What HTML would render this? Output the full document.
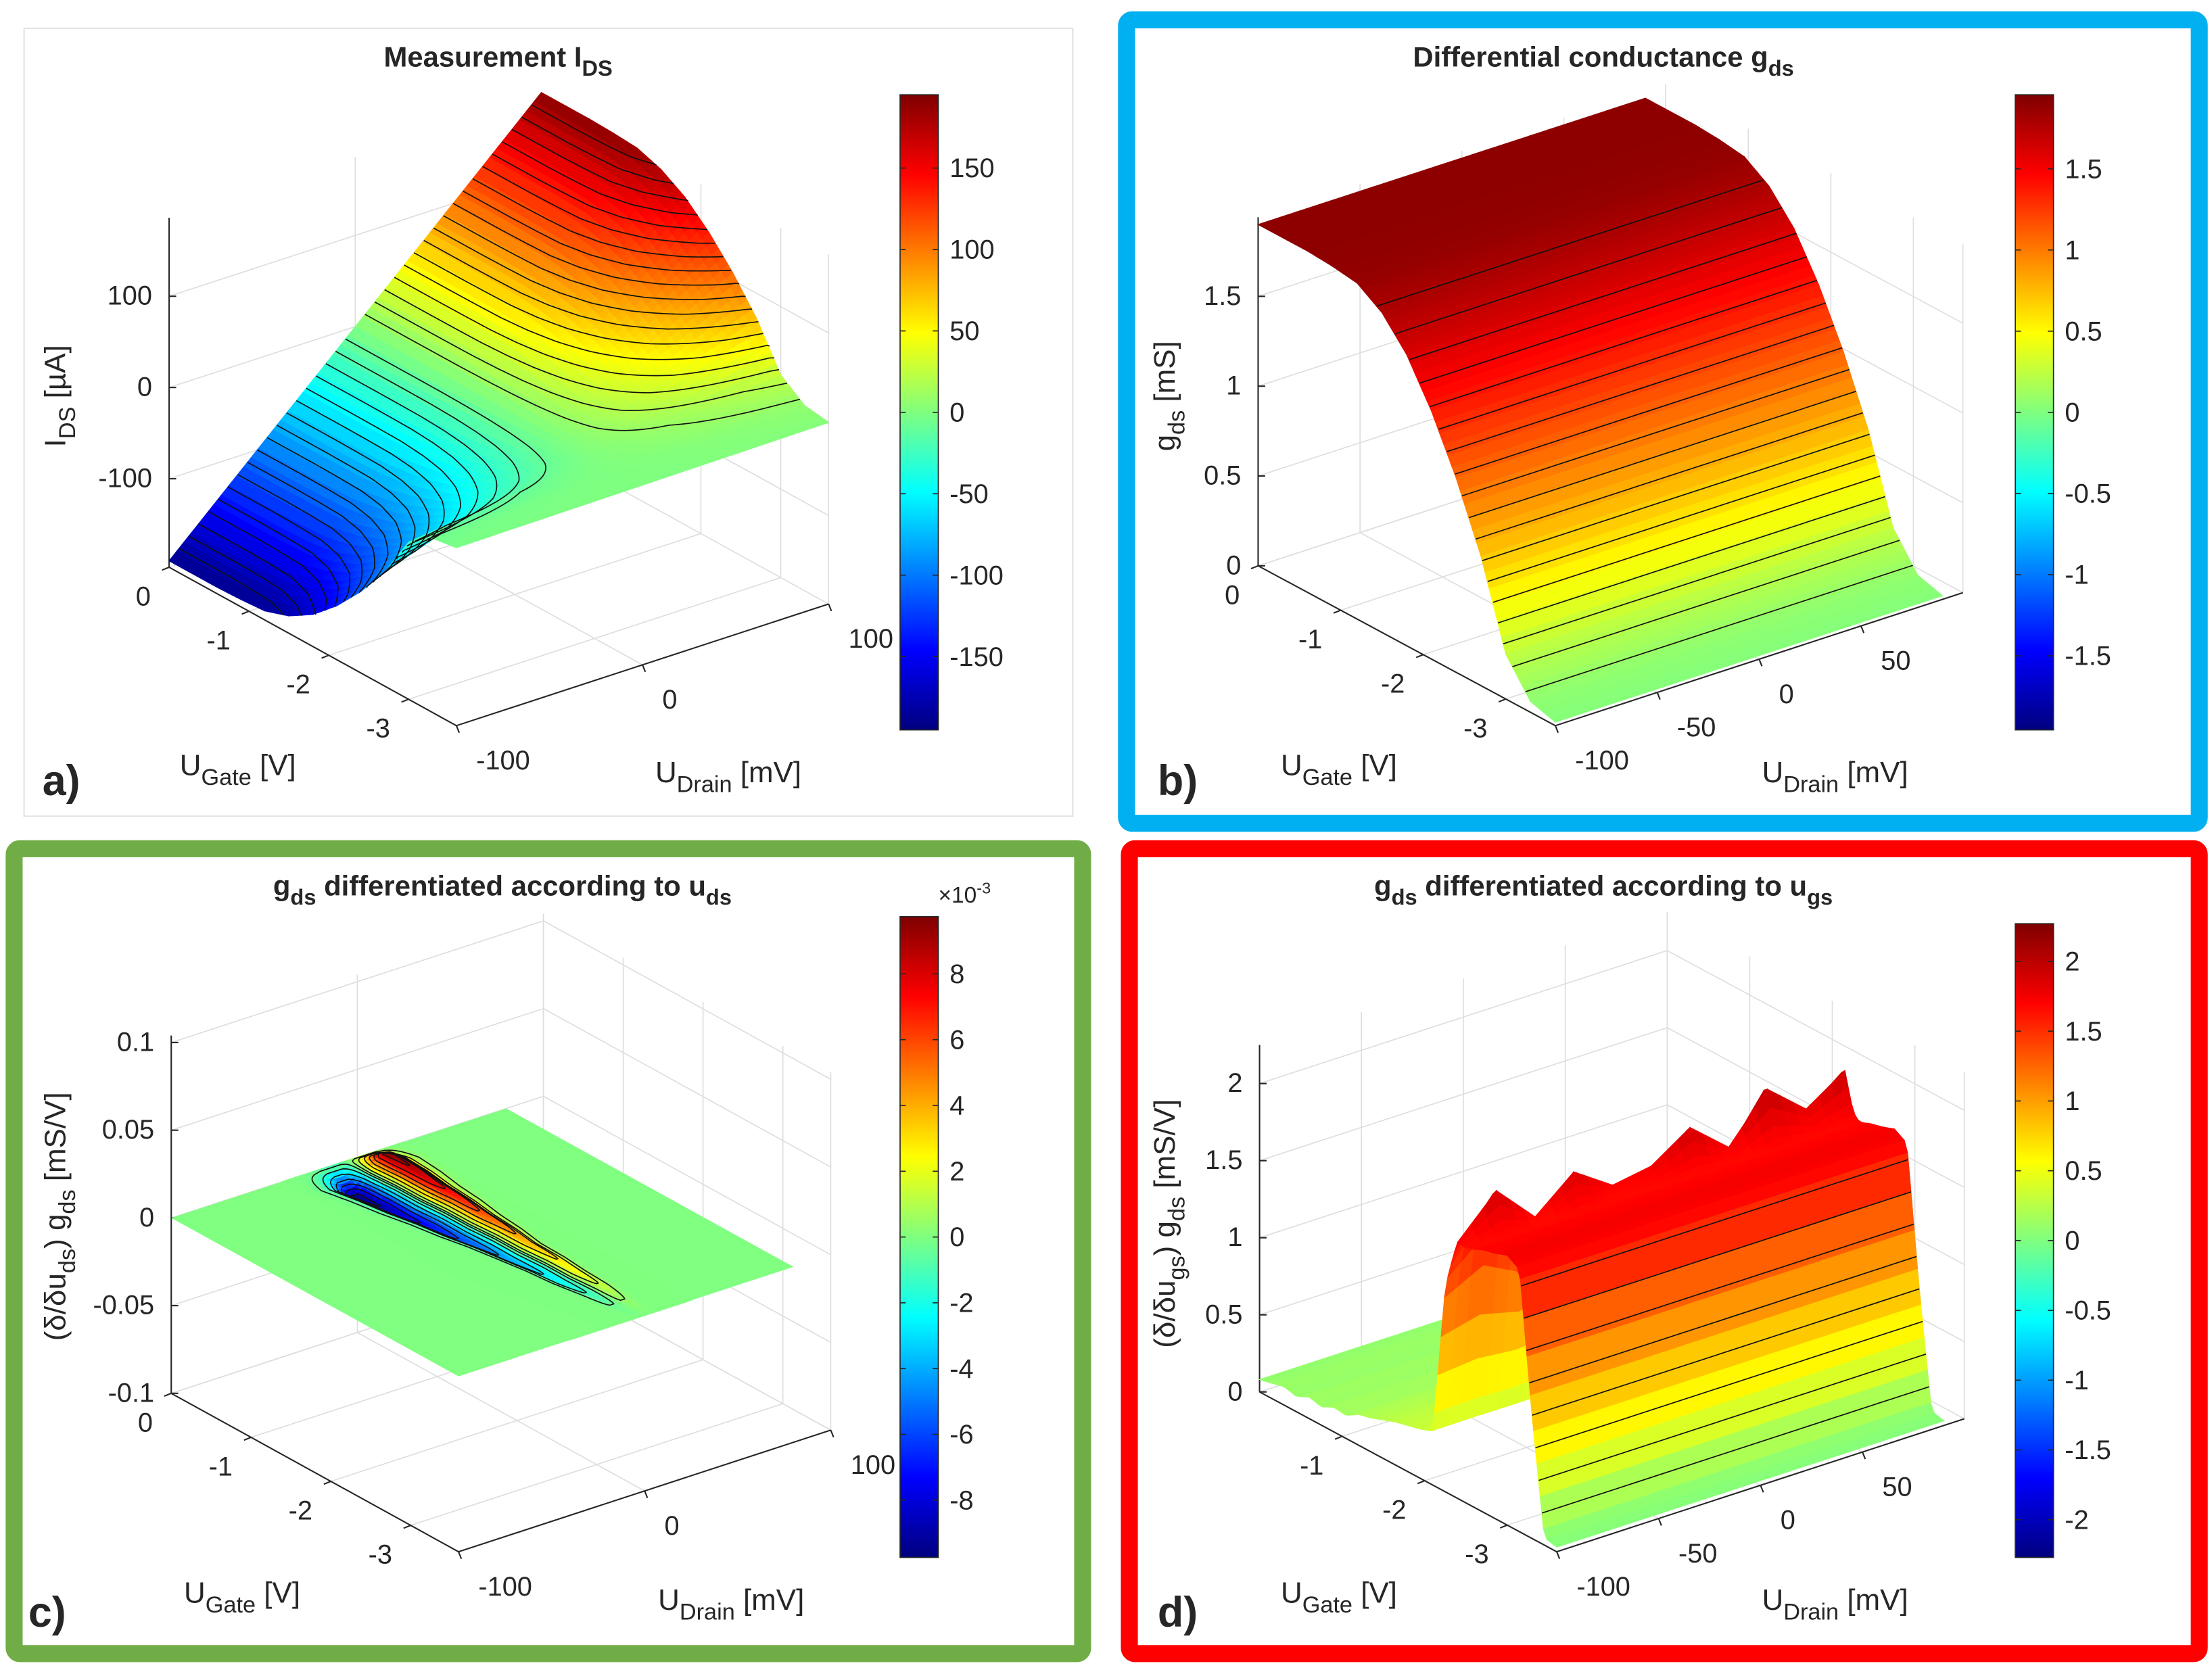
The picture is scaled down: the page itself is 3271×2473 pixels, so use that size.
<!DOCTYPE html>
<html><head><meta charset="utf-8">
<style>
html,body{margin:0;padding:0;background:#fff}
svg{display:block}
text{font-family:"Liberation Sans",Arial,sans-serif;fill:#262626}
</style></head>
<body>
<svg id="fig" xmlns="http://www.w3.org/2000/svg" width="3271" height="2473" viewBox="0 0 1563 1182" preserveAspectRatio="none">
<defs>
<linearGradient id="jet" x1="0" y1="1" x2="0" y2="0">
<stop offset="0" stop-color="#00007f"/><stop offset="0.125" stop-color="#0000ff"/><stop offset="0.375" stop-color="#00ffff"/><stop offset="0.625" stop-color="#ffff00"/><stop offset="0.875" stop-color="#ff0000"/><stop offset="1" stop-color="#7f0000"/>
</linearGradient>
</defs>
<rect x="17" y="20" width="741" height="557" fill="none" stroke="#e3e3e3" stroke-width="1"/>
<rect x="796" y="14" width="758" height="568" rx="4" fill="none" stroke="#00B0F0" stroke-width="12"/>
<rect x="10" y="600" width="755" height="569" rx="4" fill="none" stroke="#70AD47" stroke-width="12"/>
<rect x="798" y="600" width="756" height="569" rx="4" fill="none" stroke="#FF0000" stroke-width="12"/>
<g id="layer"></g>
</svg>
<script>
// ---------- data ----------
const gateSamples = [0,-0.3,-0.6,-0.9,-1.2,-1.5,-1.8,-2.1,-2.4,-2.7,-3.0,-3.3,-3.6];
const gdsValues   = [1.9,1.9,1.9,1.89,1.87,1.78,1.62,1.38,1.08,0.72,0.25,0.06,0.02];

const dGate   = [0,-0.15,-0.3,-0.45,-0.6,-0.75,-0.9,-1.05,-1.2,-1.35,-1.5,-1.65,-1.8,-1.95,-2.1,-2.25,-2.4,-2.55,-2.7,-2.85,-3.0,-3.15,-3.3,-3.45,-3.6];
const dValues = [0.08,0.1,0.12,0.1,0.14,0.12,0.16,0.15,0.2,0.22,0.25,0.28,0.3,0.32,0.35,1.3,1.62,1.66,1.7,1.72,1.75,1.7,0.8,0.05,0.03];
const dSpikeDrain  = [-100,-81,-62,-43,-24,-5,14,33,52,71,90];
const dSpikeValues = [0.05,0.35,0.05,0.3,0.1,0.15,0.35,0.1,0.45,0.2,0.4];

const stripeGate   = [0,-0.3,-0.6,-0.9,-1.2,-1.5,-1.8,-2.1,-2.4,-2.7,-3.0,-3.3,-3.6];
const stripeAmp    = [0,9.5,9,8,7,6,5,4,3.2,2.4,1.4,0.4,0];
const stripeWidth  = [12,12,11,10,9,8,7,6,5.5,5,4.5,4,4];
const stripeCenter = [-6,-6,-5,-5,-4,-4,-3,-3,-2,-2,-1,-1,0];

const aGateTicks=[0,-1,-2,-3], aDrainTicks=[-100,0,100], aZTicks=[-100,0,100];
const bGateTicks=[0,-1,-2,-3], bDrainTicks=[-100,-50,0,50], bZTicks=[0,0.5,1,1.5];
const cGateTicks=[0,-1,-2,-3], cDrainTicks=[-100,0,100], cZTicks=[-0.1,-0.05,0,0.05,0.1];
const dGateTicks=[-1,-2,-3], dDrainTicks=[-100,-50,0,50], dZTicks=[0,0.5,1,1.5,2];
const aCbTicks=[-150,-100,-50,0,50,100,150];
const bCbTicks=[-1.5,-1,-0.5,0,0.5,1,1.5];
const cCbTicks=[-8,-6,-4,-2,0,2,4,6,8];
const dCbTicks=[-2,-1.5,-1,-0.5,0,0.5,1,1.5,2];

// ---------- helpers ----------
const NS='http://www.w3.org/2000/svg';
const layer=document.getElementById('layer');
function mk(tag,parent){const e=document.createElementNS(NS,tag);parent.appendChild(e);return e;}
function interp(xs,ys,x){
  for(let i=0;i<xs.length-1;i++){
    const a=xs[i],b=xs[i+1];
    if((x<=a&&x>=b)||(x>=a&&x<=b)){const t=(x-a)/(b-a);return ys[i]+t*(ys[i+1]-ys[i]);}
  }
  return Math.abs(x-xs[0])<Math.abs(x-xs[xs.length-1])?ys[0]:ys[ys.length-1];
}
function clamp(v){return Math.max(0,Math.min(1,v));}
function jet(t){
  t=clamp(t);
  const r=clamp(Math.min(4*t-1.5,-4*t+4.5)),g=clamp(Math.min(4*t-0.5,-4*t+3.5)),b=clamp(Math.min(4*t+0.5,-4*t+2.5));
  return 'rgb('+Math.round(r*255)+','+Math.round(g*255)+','+Math.round(b*255)+')';
}
function makeProj(P){
  return function(g,d,z){
    const u=(g-P.g0)/(P.g1-P.g0), v=(d-P.d0)/(P.d1-P.d0);
    return [P.O[0]+u*P.U[0]+v*P.V[0], P.O[1]+u*P.U[1]+v*P.V[1]-(z-P.zmin)*P.zs];
  };
}
function line(parent,p,q,color,w,name){
  const l=mk('line',parent);
  l.setAttribute('x1',p[0]);l.setAttribute('y1',p[1]);l.setAttribute('x2',q[0]);l.setAttribute('y2',q[1]);
  l.setAttribute('stroke',color);l.setAttribute('stroke-width',w);
  
  
  return l;
}
function polyline(parent,pts,color,w,name){
  if(pts.length<2)return;
  const p=mk('polyline',parent);
  p.setAttribute('points',pts.map(q=>q[0].toFixed(2)+','+q[1].toFixed(2)).join(' '));
  p.setAttribute('fill','none');p.setAttribute('stroke',color);p.setAttribute('stroke-width',w);
  p.setAttribute('stroke-linejoin','round');
  
  
}
function label(parent,x,y,parts,size,anchor,name,bold,rot){
  const t=mk('text',parent);
  t.setAttribute('x',x);t.setAttribute('y',y);
  t.setAttribute('font-size',size);t.setAttribute('text-anchor',anchor);
  if(bold)t.setAttribute('font-weight','bold');
  if(rot)t.setAttribute('transform','rotate(-90 '+x+' '+y+')');
  
  
  let shift=0;
  parts.forEach(pt=>{
    const s=mk('tspan',t);
    s.textContent=pt[0];
    let target=0;
    if(pt[1]==='sub'){target=size*0.33;s.setAttribute('font-size',size*0.78);}
    if(pt[1]==='sup'){target=-size*0.4;s.setAttribute('font-size',size*0.7);}
    s.setAttribute('dy',target-shift);shift=target;
    
    
  });
  return t;
}
function fmt(v){return String(v);}

function drawSurface(parent,proj,f,gA,gB,ng,dA,dB,nd,cmin,cmax,name){
  const grp=mk('g',parent);
  
  
  for(let i=0;i<ng;i++){
    const g0=gA+(gB-gA)*i/ng, g1=gA+(gB-gA)*(i+1)/ng;
    for(let j=nd-1;j>=0;j--){
      const d0=dA+(dB-dA)*j/nd, d1=dA+(dB-dA)*(j+1)/nd;
      const z00=f(g0,d0),z01=f(g0,d1),z11=f(g1,d1),z10=f(g1,d0);
      const val=(z00+z01+z11+z10)/4;
      const pts=[proj(g0,d0,z00),proj(g0,d1,z01),proj(g1,d1,z11),proj(g1,d0,z10)];
      const col=jet((val-cmin)/(cmax-cmin));
      const q=mk('polygon',grp);
      q.setAttribute('points',pts.map(p=>p[0].toFixed(2)+','+p[1].toFixed(2)).join(' '));
      q.setAttribute('fill',col);q.setAttribute('stroke',col);q.setAttribute('stroke-width','0.6');
      
      
    }
  }
  return grp;
}

function drawAxes(parent,P,proj,gT,dT,zT,gLab,dLab,zLab){
  const grid='#dedede';
  dT.concat([P.d1]).forEach(d=>line(parent,proj(P.g0,d,P.zmin),proj(P.g0,d,P.zmax),grid,0.8,'grid-line'));
  zT.forEach(z=>line(parent,proj(P.g0,P.d0,z),proj(P.g0,P.d1,z),grid,0.8,'grid-line'));
  gT.concat([P.g1]).forEach(g=>line(parent,proj(g,P.d1,P.zmin),proj(g,P.d1,P.zmax),grid,0.8,'grid-line'));
  zT.forEach(z=>line(parent,proj(P.g0,P.d1,z),proj(P.g1,P.d1,z),grid,0.8,'grid-line'));
  gT.forEach(g=>line(parent,proj(g,P.d0,P.zmin),proj(g,P.d1,P.zmin),grid,0.8,'grid-line'));
  dT.forEach(d=>line(parent,proj(P.g0,d,P.zmin),proj(P.g1,d,P.zmin),grid,0.8,'grid-line'));
  line(parent,proj(P.g0,P.d0,P.zmin),proj(P.g1,P.d0,P.zmin),'#262626',1,'gate-axis');
  line(parent,proj(P.g1,P.d0,P.zmin),proj(P.g1,P.d1,P.zmin),'#262626',1,'drain-axis');
  line(parent,proj(P.g0,P.d0,P.zmin),proj(P.g0,P.d0,P.zmax),'#262626',1,'z-axis');
  gLab.forEach(g=>{const p=proj(g,P.d0,P.zmin);line(parent,p,[p[0]-5,p[1]+2],'#262626',1,'gate-tick');
    label(parent,p[0]-13,p[1]+27,[[fmt(g),'n']],19,'end','gate-tick-label');});
  dLab.forEach(d=>{const p=proj(P.g1,d,P.zmin);line(parent,p,[p[0]+2,p[1]+5],'#262626',1,'drain-tick');
    label(parent,p[0]+14,p[1]+31,[[fmt(d),'n']],19,'start','drain-tick-label');});
  zLab.forEach(z=>{const p=proj(P.g0,P.d0,z);line(parent,p,[p[0]+5,p[1]],'#262626',1,'z-tick');
    label(parent,p[0]-12,p[1]+6,[[fmt(z),'n']],19,'end','z-tick-label');});
}

function colorbar(parent,x,y,w,h,cmin,cmax,ticks,name){
  const g=mk('g',parent);
  
  
  const r=mk('rect',g);
  r.setAttribute('x',x);r.setAttribute('y',y);r.setAttribute('width',w);r.setAttribute('height',h);
  r.setAttribute('fill','url(#jet)');r.setAttribute('stroke','#262626');r.setAttribute('stroke-width','0.8');
  
  
  ticks.forEach(t=>{
    const ty=y+h-(t-cmin)/(cmax-cmin)*h;
    line(g,[x,ty],[x+4,ty],'#262626',0.8,'colorbar-tick');
    line(g,[x+w-4,ty],[x+w,ty],'#262626',0.8,'colorbar-tick');
    label(g,x+w+8,ty+6.5,[[fmt(t),'n']],19,'start','colorbar-tick-label');
  });
}

// ---------- Panel a ----------
(function(){
  const P={O:[119.5,401],U:[203,112],V:[263,-86],g0:0,g1:-3.6,d0:-100,d1:100,zmin:-197,zmax:186,zs:0.645};
  const proj=makeProj(P);
  const g=mk('g',layer);
  
  
  drawAxes(g,P,proj,aGateTicks,aDrainTicks,aZTicks,aGateTicks,aDrainTicks,aZTicks);
  const gds=x=>interp(gateSamples,gdsValues,x);
  const f=(gg,d)=>gds(gg)*d;
  drawSurface(g,proj,f,0,-3.6,60,-100,100,50,-195,195,'ids-surface');
  const cg=mk('g',g);
  
  
  for(let L=-180;L<=180;L+=10){
    if(L===0)continue;
    const pts=[];
    for(let gg=0;gg>=-3.6;gg-=0.02){
      const d=L/gds(gg);
      if(Math.abs(d)>100){pts.push(proj(gg,Math.sign(d)*100,L));break;}
      pts.push(proj(gg,d,L));
    }
    polyline(cg,pts,'#111',0.8,'ids-contour');
  }
  colorbar(g,636,67,27,449,-195,195,aCbTicks,'colorbar-a');
  label(g,352,47,[['Measurement I','n'],['DS','sub']],20,'middle','title-a',true);
  label(g,127,548,[['U','n'],['Gate','sub'],[' [V]','n']],21,'start','x-axis-title-gate-a');
  label(g,463,553,[['U','n'],['Drain','sub'],[' [mV]','n']],21,'start','x-axis-title-drain-a');
  label(g,46,280,[['I','n'],['DS','sub'],[' [µA]','n']],21,'middle','y-axis-title-a',false,true);
  label(g,30,562,[['a)','n']],30,'start','panel-label-a',true);
})();

// ---------- Panel b ----------
(function(){
  const P={O:[889,400],U:[210,113],V:[288,-94],g0:0,g1:-3.6,d0:-100,d1:100,zmin:0,zmax:1.94,zs:127};
  const proj=makeProj(P);
  const g=mk('g',layer);
  
  
  drawAxes(g,P,proj,bGateTicks,bDrainTicks,bZTicks,bGateTicks,bDrainTicks,bZTicks);
  const gds=x=>interp(gateSamples,gdsValues,x);
  drawSurface(g,proj,(gg,d)=>gds(gg),0,-3.6,72,-100,90,10,-1.956,1.956,'gds-surface');
  const cg=mk('g',g);
  
  
  for(let L=0.1;L<=1.85;L+=0.1){
    let gl=null;
    for(let gg=0;gg>=-3.6;gg-=0.005){if(gds(gg)<=L){gl=gg;break;}}
    if(gl===null)continue;
    polyline(cg,[proj(gl,-100,L),proj(gl,90,L)],'#111',0.8,'gds-contour');
  }
  colorbar(g,1424,67,27,449,-1.956,1.956,bCbTicks,'colorbar-b');
  label(g,1133,47,[['Differential conductance g','n'],['ds','sub']],20,'middle','title-b',true);
  label(g,905,548,[['U','n'],['Gate','sub'],[' [V]','n']],21,'start','x-axis-title-gate-b');
  label(g,1245,553,[['U','n'],['Drain','sub'],[' [mV]','n']],21,'start','x-axis-title-drain-b');
  label(g,830,280,[['g','n'],['ds','sub'],[' [mS]','n']],21,'middle','y-axis-title-b',false,true);
  label(g,818,562,[['b)','n']],30,'start','panel-label-b',true);
})();

// ---------- Panel c ----------
(function(){
  const P={O:[121,985],U:[203,112],V:[263,-86],g0:0,g1:-3.6,d0:-100,d1:100,zmin:-0.1,zmax:0.104,zs:1240};
  const proj=makeProj(P);
  const g=mk('g',layer);
  
  
  drawAxes(g,P,proj,cGateTicks,cDrainTicks,cZTicks,cGateTicks,cDrainTicks,cZTicks);
  const amp=x=>interp(stripeGate,stripeAmp,x)*1e-3;
  const wid=x=>interp(stripeGate,stripeWidth,x);
  const cen=x=>interp(stripeGate,stripeCenter,x);
  const f=(gg,d)=>{const t=(d-cen(gg))/wid(gg);return amp(gg)*2.33*t*Math.exp(-t*t);};
  const cmax=9.74e-3;
  const plane=mk('polygon',g);
  const pc=[proj(0,-100,0),proj(0,80,0),proj(-3.6,80,0),proj(-3.6,-100,0)];
  plane.setAttribute('points',pc.map(p=>p[0]+','+p[1]).join(' '));
  plane.setAttribute('fill',jet(0.5));
  
  
  drawSurface(g,proj,f,0,-3.6,60,-40,25,54,-cmax,cmax,'dgds-stripe-surface');
  const cg=mk('g',g);
  
  
  const levels=[0.4,1.5,3,4.5,6,7.5,9];
  levels.forEach(lv=>{
    [1,-1].forEach(sg=>{
      const L=lv*1e-3;
      const inner=[],outer=[];
      for(let gg=0;gg>=-3.6;gg-=0.02){
        const A=amp(gg)*2.33; if(A*0.4289<=L)continue;
        const h=t=>A*t*Math.exp(-t*t)-L;
        let a=0,b=0.7071;for(let k=0;k<30;k++){const m=(a+b)/2;if(h(m)>0)b=m;else a=m;}
        const ti=(a+b)/2;
        a=0.7071;b=4;for(let k=0;k<30;k++){const m=(a+b)/2;if(h(m)>0)a=m;else b=m;}
        const to=(a+b)/2;
        inner.push(proj(gg,cen(gg)+sg*ti*wid(gg),sg*L));
        outer.push(proj(gg,cen(gg)+sg*to*wid(gg),sg*L));
      }
      if(inner.length>1){
        const loop=inner.concat(outer.reverse());loop.push(inner[0]);
        polyline(cg,loop,'#111',0.8,'dgds-contour');
      }
    });
  });
  colorbar(g,636,648,27,453,-9.74,9.74,cCbTicks,'colorbar-c');
  label(g,663,638,[['×10','n'],['-3','sup']],16,'start','colorbar-c-exponent');
  label(g,355,633,[['g','n'],['ds','sub'],[' differentiated according to u','n'],['ds','sub']],20,'middle','title-c',true);
  label(g,130,1133,[['U','n'],['Gate','sub'],[' [V]','n']],21,'start','x-axis-title-gate-c');
  label(g,465,1138,[['U','n'],['Drain','sub'],[' [mV]','n']],21,'start','x-axis-title-drain-c');
  label(g,46,860,[['(δ/δu','n'],['ds','sub'],[') g','n'],['ds','sub'],[' [mS/V]','n']],21,'middle','y-axis-title-c',false,true);
  label(g,20,1150,[['c)','n']],30,'start','panel-label-c',true);
})();

// ---------- Panel d ----------
(function(){
  const P={O:[890,984],U:[210,113],V:[288,-94],g0:0,g1:-3.6,d0:-100,d1:100,zmin:0,zmax:2.25,zs:109};
  const proj=makeProj(P);
  const g=mk('g',layer);
  
  
  drawAxes(g,P,proj,[0,-1,-2,-3],dDrainTicks,dZTicks,dGateTicks,dDrainTicks,dZTicks);
  const base=x=>interp(dGate,dValues,x);
  const f=(gg,d)=>{
    const bump=Math.exp(-Math.pow((gg+2.35)/0.12,2));
    return base(gg)+bump*interp(dSpikeDrain,dSpikeValues,d);
  };
  drawSurface(g,proj,f,0,-3.6,90,-100,90,30,-2.27,2.27,'dgds-gate-surface');
  const cg=mk('g',g);
  
  
  for(let L=0.2;L<=1.65;L+=0.2){
    let gl=null;
    for(let gg=-2.9;gg>=-3.6;gg-=0.002){if(base(gg)<=L){gl=gg;break;}}
    if(gl===null)continue;
    polyline(cg,[proj(gl,-100,L),proj(gl,90,L)],'#111',0.8,'dgds-gate-contour');
  }
  colorbar(g,1424,653,27,448,-2.27,2.27,dCbTicks,'colorbar-d');
  label(g,1133,633,[['g','n'],['ds','sub'],[' differentiated according to u','n'],['gs','sub']],20,'middle','title-d',true);
  label(g,905,1133,[['U','n'],['Gate','sub'],[' [V]','n']],21,'start','x-axis-title-gate-d');
  label(g,1245,1138,[['U','n'],['Drain','sub'],[' [mV]','n']],21,'start','x-axis-title-drain-d');
  label(g,830,865,[['(δ/δu','n'],['gs','sub'],[') g','n'],['ds','sub'],[' [mS/V]','n']],21,'middle','y-axis-title-d',false,true);
  label(g,818,1150,[['d)','n']],30,'start','panel-label-d',true);
})();
</script>
</body></html>
